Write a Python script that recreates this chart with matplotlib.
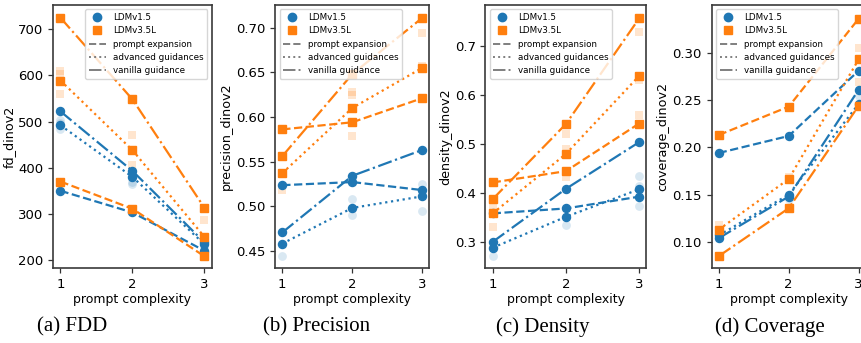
import matplotlib
matplotlib.use('Agg')
import matplotlib.pyplot as plt
from matplotlib.lines import Line2D

x = [1, 2, 3]
models = ['LDMv1.5', 'LDMv3.5L']
methods = ['prompt expansion', 'advanced guidances', 'vanilla guidance']

# fd_dinov2
fdd_v15_exp = [350, 303, 220]
fdd_v15_adv = [492, 380, 234]
fdd_v15_van = [522, 393, 238]
fdd_v35_exp = [370, 311, 208]
fdd_v35_adv = [589, 438, 250]
fdd_v35_van = [725, 548, 313]
fdd_v15_seed_x = [1, 1, 1, 2, 2, 3, 3]
fdd_v15_seed_y = [503, 498, 483, 370, 365, 242, 226]
fdd_v35_seed_x = [1, 1, 1, 2, 2, 3]
fdd_v35_seed_y = [610, 603, 559, 471, 406, 286]

# precision_dinov2
prec_v15_exp = [0.5235, 0.527, 0.518]
prec_v15_adv = [0.458, 0.498, 0.511]
prec_v15_van = [0.4705, 0.534, 0.563]
prec_v35_exp = [0.586, 0.594, 0.621]
prec_v35_adv = [0.537, 0.610, 0.655]
prec_v35_van = [0.556, 0.648, 0.711]
prec_v15_seed_x = [1, 2, 2, 3, 3]
prec_v15_seed_y = [0.444, 0.508, 0.490, 0.525, 0.495]
prec_v35_seed_x = [1, 2, 2, 2, 3, 3]
prec_v35_seed_y = [0.518, 0.628, 0.624, 0.579, 0.694, 0.657]

# density_dinov2
dens_v15_exp = [0.359, 0.369, 0.393]
dens_v15_adv = [0.289, 0.352, 0.408]
dens_v15_van = [0.301, 0.409, 0.504]
dens_v35_exp = [0.422, 0.445, 0.542]
dens_v35_adv = [0.359, 0.480, 0.639]
dens_v35_van = [0.388, 0.541, 0.756]
dens_v15_seed_x = [1, 2, 3, 3, 3]
dens_v15_seed_y = [0.272, 0.335, 0.436, 0.415, 0.375]
dens_v35_seed_x = [1, 1, 2, 2, 2, 3, 3, 3]
dens_v35_seed_y = [0.376, 0.332, 0.521, 0.490, 0.433, 0.729, 0.631, 0.560]

# coverage_dinov2
cov_v15_exp = [0.194, 0.212, 0.281]
cov_v15_adv = [0.107, 0.150, 0.246]
cov_v15_van = [0.104, 0.148, 0.261]
cov_v35_exp = [0.213, 0.243, 0.336]
cov_v35_adv = [0.113, 0.1665, 0.293]
cov_v35_van = [0.085, 0.1356, 0.244]
cov_v15_seed_x = [1, 2, 3]
cov_v15_seed_y = [0.107, 0.145, 0.254]
cov_v35_seed_x = [1, 2, 3, 3]
cov_v35_seed_y = [0.118, 0.169, 0.305, 0.269]

captions = ['(a) FDD', '(b) Precision', '(c) Density', '(d) Coverage']

BLUE = '#1f77b4'
ORANGE = '#ff7f0e'
styles = ['--', ':', '-.']

W, H = 862, 343
fig = plt.figure(figsize=(W / 100, H / 100), dpi=100)


def make_ax(left, width):
    # pixel box -> figure fraction
    return fig.add_axes([left / W, (H - 268) / H, width / W, 263 / H])


def panel(ax, v15, v35, seeds15, seeds35, ylabel, ylim, yticks, fmt, legend_loc):
    # individual runs, faded
    ax.scatter(seeds15[0], seeds15[1], s=40, color=BLUE, alpha=0.17, marker='o',
               linewidths=0, zorder=1)
    ax.scatter(seeds35[0], seeds35[1], s=40, color=ORANGE, alpha=0.2, marker='s',
               linewidths=0, zorder=1)
    # means
    for ys, ls in zip(v15, styles):
        ax.plot(x, ys, color=BLUE, linestyle=ls, lw=1.6, marker='o', ms=5.8, zorder=2)
    for ys, ls in zip(v35, styles):
        ax.plot(x, ys, color=ORANGE, linestyle=ls, lw=1.6, marker='s', ms=5.6, zorder=3)
    ax.set_xlim(0.9, 3.1)
    ax.set_ylim(*ylim)
    ax.set_xticks(x)
    ax.set_yticks(yticks)
    ax.set_yticklabels([fmt.format(v) for v in yticks])
    ax.tick_params(labelsize=9.5, width=0.9, length=3.5, color='#333333')
    for sp in ax.spines.values():
        sp.set_color('#3a3a3a')
        sp.set_linewidth(1.2)
    ax.set_xlabel('prompt complexity', fontsize=9, labelpad=1.5)
    ax.set_ylabel(ylabel, fontsize=9.2, labelpad=2)

    handles = [
        Line2D([], [], color=BLUE, marker='o', ls='', ms=6),
        Line2D([], [], color=ORANGE, marker='s', ls='', ms=6),
        Line2D([], [], color='#7f7f7f', ls='--', lw=1.4),
        Line2D([], [], color='#7f7f7f', ls=':', lw=1.4),
        Line2D([], [], color='#7f7f7f', ls='-.', lw=1.4),
    ]
    ax.legend(handles, models + methods, loc=legend_loc, fontsize=6.3,
              handlelength=2.0, borderaxespad=0.5, framealpha=0.8)


ax_a = make_ax(53.3, 158.4)
panel(ax_a,
      [fdd_v15_exp, fdd_v15_adv, fdd_v15_van],
      [fdd_v35_exp, fdd_v35_adv, fdd_v35_van],
      (fdd_v15_seed_x, fdd_v15_seed_y), (fdd_v35_seed_x, fdd_v35_seed_y),
      'fd_dinov2', (182.7, 752.7), [200, 300, 400, 500, 600, 700], '{:.0f}',
      'upper right')

ax_b = make_ax(275.3, 154)
panel(ax_b,
      [prec_v15_exp, prec_v15_adv, prec_v15_van],
      [prec_v35_exp, prec_v35_adv, prec_v35_van],
      (prec_v15_seed_x, prec_v15_seed_y), (prec_v35_seed_x, prec_v35_seed_y),
      'precision_dinov2', (0.4307, 0.7254),
      [0.45, 0.50, 0.55, 0.60, 0.65, 0.70], '{:.2f}', 'upper left')

ax_c = make_ax(485.4, 161)
panel(ax_c,
      [dens_v15_exp, dens_v15_adv, dens_v15_van],
      [dens_v35_exp, dens_v35_adv, dens_v35_van],
      (dens_v15_seed_x, dens_v15_seed_y), (dens_v35_seed_x, dens_v35_seed_y),
      'density_dinov2', (0.2477, 0.7835), [0.3, 0.4, 0.5, 0.6, 0.7], '{:.1f}',
      'upper left')

ax_d = make_ax(711.7, 154)
panel(ax_d,
      [cov_v15_exp, cov_v15_adv, cov_v15_van],
      [cov_v35_exp, cov_v35_adv, cov_v35_van],
      (cov_v15_seed_x, cov_v15_seed_y), (cov_v35_seed_x, cov_v35_seed_y),
      'coverage_dinov2', (0.0725, 0.3504),
      [0.10, 0.15, 0.20, 0.25, 0.30], '{:.2f}', 'upper left')

for cx, txt in zip([72, 317, 543, 770], captions):
    fig.text(cx / W, (H - 327) / H, txt, ha='center', va='center',
             family='Liberation Serif', fontsize=15)

fig.savefig('out.png', dpi=100)
